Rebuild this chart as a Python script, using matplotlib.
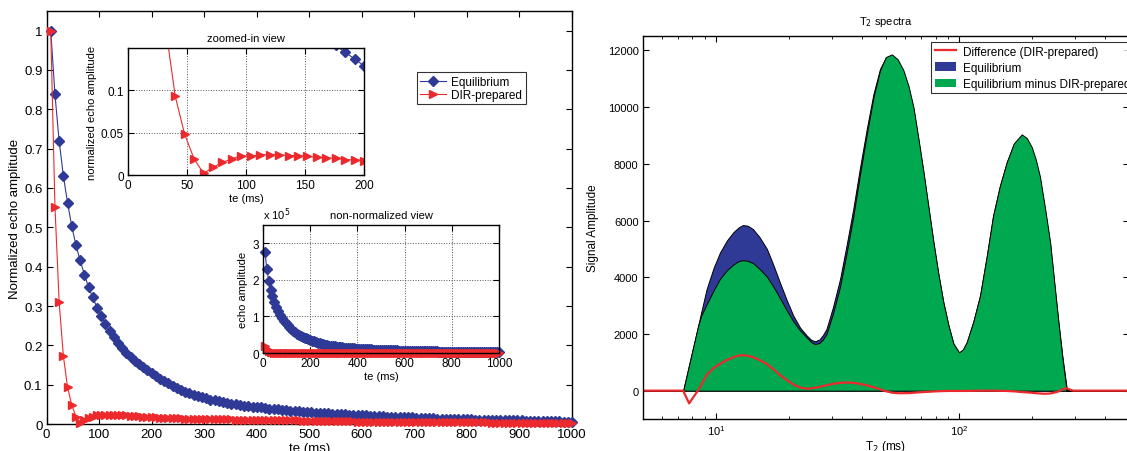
import numpy as np
import matplotlib
matplotlib.use('Agg')
import matplotlib.pyplot as plt
from matplotlib.ticker import FormatStrFormatter, LogLocator, NullFormatter
from matplotlib.patches import Patch
from matplotlib.lines import Line2D

plt.rcParams['font.family'] = ['Liberation Sans', 'DejaVu Sans']

# echo times (ms), one echo every 8 ms
te = np.arange(8, 1001, 8)

# normalized echo trains
eq_norm = [1.000, 0.838, 0.719, 0.631, 0.562, 0.503, 0.454, 0.416, 0.380, 0.348,
           0.322, 0.296, 0.275, 0.254, 0.236, 0.220, 0.206, 0.193, 0.181, 0.171,
           0.161, 0.153, 0.145, 0.137, 0.129, 0.122, 0.115, 0.109, 0.103, 0.097,
           0.092, 0.087, 0.082, 0.078, 0.074, 0.071, 0.068, 0.065, 0.062, 0.060,
           0.058, 0.056, 0.054, 0.052, 0.050, 0.049, 0.047, 0.046, 0.044, 0.043,
           0.042, 0.040, 0.039, 0.038, 0.037, 0.036, 0.035, 0.034, 0.033, 0.032,
           0.031, 0.031, 0.030, 0.029, 0.028, 0.028, 0.027, 0.026, 0.026, 0.025,
           0.025, 0.024, 0.023, 0.023, 0.022, 0.022, 0.021, 0.021, 0.020, 0.020,
           0.019, 0.019, 0.018, 0.018, 0.017, 0.017, 0.017, 0.016, 0.016, 0.015,
           0.015, 0.015, 0.014, 0.014, 0.014, 0.013, 0.013, 0.013, 0.012, 0.012,
           0.012, 0.011, 0.011, 0.011, 0.011, 0.010, 0.010, 0.010, 0.010, 0.009,
           0.009, 0.009, 0.009, 0.008, 0.008, 0.008, 0.008, 0.007, 0.007, 0.007,
           0.007, 0.007, 0.006, 0.006, 0.006]
dir_norm = [1.000, 0.552, 0.310, 0.173, 0.093, 0.048, 0.019, 0.002, 0.009, 0.015,
            0.019, 0.023, 0.022, 0.024, 0.024, 0.024, 0.023, 0.023, 0.022, 0.021,
            0.020, 0.020, 0.018, 0.018, 0.017, 0.017, 0.016, 0.016, 0.016, 0.015,
            0.015, 0.015, 0.014, 0.014, 0.014, 0.014, 0.013, 0.013, 0.013, 0.013,
            0.012, 0.012, 0.012, 0.012, 0.011, 0.011, 0.011, 0.011, 0.011, 0.010,
            0.010, 0.010, 0.010, 0.010, 0.009, 0.009, 0.009, 0.009, 0.009, 0.009,
            0.008, 0.008, 0.008, 0.008, 0.008, 0.008, 0.007, 0.007, 0.007, 0.007,
            0.007, 0.007, 0.007, 0.006, 0.006, 0.006, 0.006, 0.006, 0.006, 0.006,
            0.006, 0.005, 0.005, 0.005, 0.005, 0.005, 0.005, 0.005, 0.005, 0.005,
            0.005, 0.004, 0.004, 0.004, 0.004, 0.004, 0.004, 0.004, 0.004, 0.004,
            0.004, 0.004, 0.004, 0.004, 0.004, 0.003, 0.003, 0.003, 0.003, 0.003,
            0.003, 0.003, 0.003, 0.003, 0.003, 0.003, 0.003, 0.003, 0.003, 0.003,
            0.003, 0.003, 0.003, 0.003, 0.003]
# first-echo amplitudes (non-normalized view)
EQ_S0 = 2.75e5
DIR_S0 = 2.0e4

# T2 spectra
t2 = [5.0, 7.33, 7.76, 8.0, 8.43, 8.7, 9.16, 9.8, 10.4, 11.1,
      11.8, 12.4, 12.9, 13.5, 14.2, 15.1, 16.2, 17.2, 18.3, 19.5,
      20.8, 22.2, 23.6, 24.6, 25.5, 26.6, 27.5, 28.5, 30.3, 32.4,
      34.5, 36.7, 39.1, 41.7, 44.4, 47.3, 50.0, 52.9, 55.9, 59.0,
      62.0, 64.9, 68.0, 71.3, 74.8, 78.4, 82.2, 86.1, 90.4, 94.8,
      100, 103.8, 107.6, 114.6, 122, 130, 138, 147, 157, 168,
      181, 190, 199, 207, 215, 226, 237, 246, 256, 266,
      277, 285, 295, 500]
spec_eq = [0, 0, 920, 1410, 2250, 2770, 3590, 4350, 4880, 5300,
           5590, 5760, 5840, 5820, 5700, 5420, 5000, 4450, 3830, 3220,
           2650, 2220, 1950, 1800, 1740, 1800, 1950, 2180, 2950, 3940,
           5150, 6400, 7850, 9220, 10450, 11350, 11750, 11790, 11600, 11220,
           10650, 9930, 8850, 7700, 6450, 5230, 4100, 3120, 2300, 1650,
           1340, 1450, 1710, 2450, 3360, 4750, 6170, 7200, 8050, 8700,
           8990, 8850, 8520, 8050, 7460, 6300, 5120, 3800, 2420, 1200,
           90, 0, 0, 0]
spec_minus = [0, 0, 920, 1410, 2250, 2650, 3050, 3550, 3950, 4250,
              4450, 4570, 4600, 4580, 4500, 4300, 4020, 3680, 3280, 2850,
              2450, 2120, 1880, 1720, 1640, 1680, 1800, 2000, 2720, 3670,
              4870, 6130, 7610, 9030, 10330, 11300, 11770, 11860, 11690, 11310,
              10735, 10005, 8910, 7750, 6490, 5260, 4120, 3135, 2310, 1660,
              1350, 1460, 1720, 2455, 3360, 4750, 6170, 7205, 8060, 8725,
              9040, 8910, 8595, 8140, 7560, 6410, 5220, 3870, 2450, 1160,
              0, 0, 0, 0]
spec_diff = [0, 0, -450, -280, 0, 200, 550, 800, 950, 1080,
             1180, 1240, 1250, 1230, 1180, 1080, 940, 760, 560, 380,
             220, 110, 70, 80, 100, 130, 160, 190, 240, 275,
             285, 275, 240, 190, 120, 50, -20, -70, -90, -90,
             -85, -75, -60, -50, -40, -30, -20, -15, -10, -10,
             -10, -10, -10, -5, 0, 0, 0, -5, -10, -25,
             -50, -60, -75, -90, -100, -110, -100, -70, -30, 40,
             90, 40, 0, 0]

BLUE = '#2E3A96'
RED = '#EC2A2E'
GREEN = '#00A84F'


def matlab_axes(ax, fs):
    ax.tick_params(direction='in', top=True, right=True, labelsize=fs,
                   length=4, width=0.8, pad=3)
    for s in ax.spines.values():
        s.set_linewidth(1.0)


fig = plt.figure(figsize=(11.27, 4.52), dpi=100)

# main normalized plot
ax = fig.add_axes([0.0413, 0.0597, 0.4662, 0.9138])
ax.plot(te, eq_norm, '-', color=BLUE, lw=0.8, marker='D', ms=5.2,
        mec=BLUE, mfc=BLUE, label='Equilibrium', clip_on=False, zorder=3)
ax.plot(te, dir_norm, '-', color=RED, lw=0.8, marker='>', ms=6.2,
        mec=RED, mfc=RED, label='DIR-prepared', clip_on=False, zorder=4)
ax.set_xlim(0, 1000)
ax.set_ylim(0, 1.05)
ax.set_xticks(np.arange(0, 1001, 100))
ax.set_yticks(np.arange(0, 1.01, 0.1))
ax.yaxis.set_major_formatter(FormatStrFormatter('%g'))
ax.set_xlabel('te (ms)', fontsize=9.5, labelpad=1)
ax.set_ylabel('Normalized echo amplitude', fontsize=9.5, labelpad=2)
matlab_axes(ax, 9.5)
leg = ax.legend(loc='upper left', bbox_to_anchor=(0.705, 0.852), fontsize=8.5,
                frameon=True, fancybox=False, edgecolor='k', borderpad=0.3,
                handlelength=2.2, handletextpad=0.4, labelspacing=0.1,
                borderaxespad=0)
leg.get_frame().set_linewidth(0.8)

# zoomed-in inset
ax1 = fig.add_axes([0.1136, 0.6106, 0.2094, 0.281])
ax1.plot(te, eq_norm, '-', color=BLUE, lw=0.8, marker='D', ms=5.2,
         mec=BLUE, mfc=BLUE)
ax1.plot(te, dir_norm, '-', color=RED, lw=0.8, marker='>', ms=6.2,
         mec=RED, mfc=RED)
ax1.set_xlim(0, 200)
ax1.set_ylim(0, 0.15)
ax1.set_xticks([0, 50, 100, 150, 200])
ax1.set_yticks([0, 0.05, 0.1])
ax1.yaxis.set_major_formatter(FormatStrFormatter('%g'))
ax1.grid(True, ls=':', color='#555555', lw=0.7)
ax1.set_title('zoomed-in view', fontsize=8, pad=5)
ax1.set_xlabel('te (ms)', fontsize=8, labelpad=1)
ax1.set_ylabel('normalized echo amplitude', fontsize=8, labelpad=3)
matlab_axes(ax1, 8.5)

# non-normalized inset
ax2 = fig.add_axes([0.2334, 0.2168, 0.2094, 0.2832])
ax2.plot(te, np.array(eq_norm) * EQ_S0 / 1e5, '-', color=BLUE, lw=0.8,
         marker='D', ms=5.2, mec=BLUE, mfc=BLUE, clip_on=False)
ax2.plot(te, np.array(dir_norm) * DIR_S0 / 1e5, '-', color=RED, lw=0.8,
         marker='>', ms=6.2, mec=RED, mfc=RED, clip_on=False)
ax2.set_xlim(0, 1000)
ax2.set_ylim(0, 3.5)
ax2.set_xticks([0, 200, 400, 600, 800, 1000])
ax2.set_yticks([0, 1, 2, 3])
ax2.grid(True, ls=':', color='#555555', lw=0.7)
ax2.set_title('non-normalized view', fontsize=8, pad=5)
ax2.text(0.0, 1.02, r'x 10$^5$', transform=ax2.transAxes, fontsize=8,
         ha='left', va='bottom')
ax2.set_xlabel('te (ms)', fontsize=8, labelpad=1)
ax2.set_ylabel('echo amplitude', fontsize=8, labelpad=3)
matlab_axes(ax2, 8.5)

# T2 spectra
ax3 = fig.add_axes([0.5703, 0.0708, 0.4315, 0.8467])
ax3.fill_between(t2, 0, spec_eq, facecolor=BLUE, edgecolor='k', lw=0.7)
ax3.fill_between(t2, 0, spec_minus, facecolor=GREEN, edgecolor='k', lw=0.7)
ax3.plot(t2, spec_diff, '-', color=RED, lw=1.6)
ax3.set_xscale('log')
ax3.set_xlim(5, 500)
ax3.set_ylim(-1000, 12500)
ax3.set_yticks(np.arange(0, 12001, 2000))
ax3.xaxis.set_major_locator(LogLocator(base=10, numticks=10))
ax3.xaxis.set_minor_locator(LogLocator(base=10, subs=np.arange(2, 10), numticks=10))
ax3.xaxis.set_minor_formatter(NullFormatter())
ax3.tick_params(which='minor', direction='in', top=True, length=2.5, width=0.6)
ax3.set_title(r'T$_2$ spectra', fontsize=8, pad=9)
ax3.set_xlabel(r'T$_2$ (ms)', fontsize=8.5, labelpad=1)
ax3.set_ylabel('Signal Amplitude', fontsize=8.5, labelpad=6)
matlab_axes(ax3, 8)
handles = [Line2D([], [], color=RED, lw=1.6),
           Patch(facecolor=BLUE, edgecolor='none'),
           Patch(facecolor=GREEN, edgecolor='none')]
labels = ['Difference (DIR-prepared)', 'Equilibrium',
          'Equilibrium minus DIR-prepared']
leg3 = ax3.legend(handles, labels, loc='upper left', bbox_to_anchor=(0.593, 0.985),
                  fontsize=8.5, frameon=True, fancybox=False, edgecolor='k',
                  borderpad=0.3, handlelength=1.8, handletextpad=0.6,
                  labelspacing=0.35, borderaxespad=0)
leg3.get_frame().set_linewidth(0.8)

fig.savefig('out.png', dpi=100)
